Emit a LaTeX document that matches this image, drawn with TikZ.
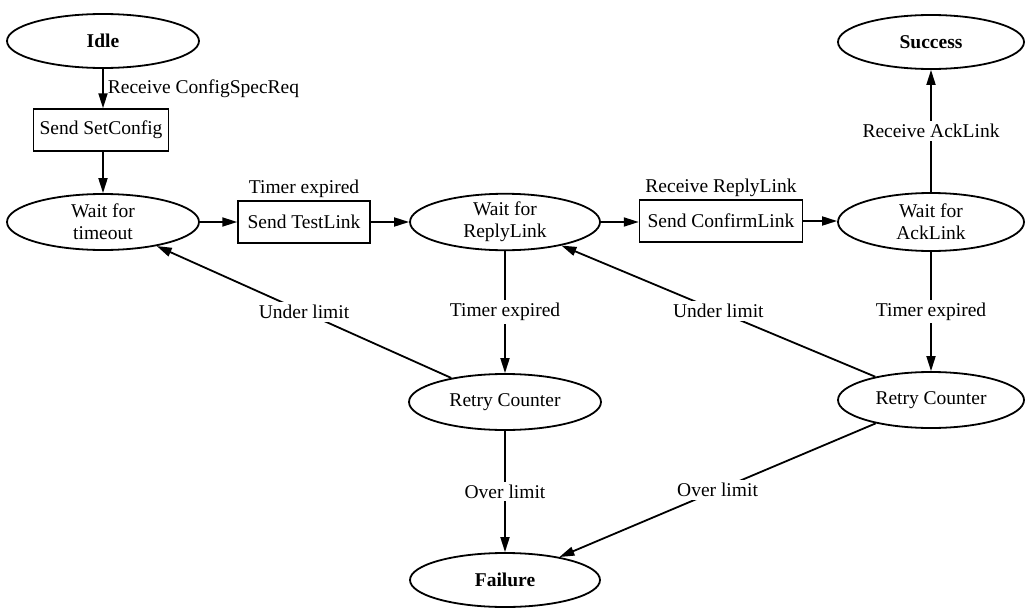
\documentclass[tikz,border=0pt]{standalone}
\usepackage{fontspec}
\setmainfont{Liberation Serif}
\usetikzlibrary{shapes.geometric,arrows.meta}
\begin{document}
\begin{tikzpicture}[x=1pt,y=-1pt,
  every node/.style={font=\fontsize{19.5}{22}\selectfont},
  state/.style={draw, ellipse, line width=1.8pt, inner sep=0pt,
    minimum width=192pt, minimum height=56pt, align=center},
  action/.style={draw, rectangle, line width=1.5pt, inner sep=0pt,
    minimum height=42pt},
  lbl/.style={fill=white, inner sep=3pt},
  flow/.style={line width=1.8pt, -{Triangle[length=15pt,width=9pt]}}
]
\useasboundingbox (0,0) rectangle (1033,613);

% states
\node[state, minimum height=54pt] (idle)    at (103,41)  {\textbf{Idle}};
\node[state] (waitto)  at (103,222) {Wait for\\timeout};
\node[state, minimum width=190pt] (waitrl)  at (505,222) {Wait for\\ReplyLink};
\node[state, minimum width=186pt, minimum height=58pt] (waitack) at (931,222) {Wait for\\AckLink};
\node[state, minimum width=186pt, minimum height=54pt] (success) at (931,42)  {\textbf{Success}};
\node[state] (retry1)  at (505,402) {Retry Counter};
\node[state, minimum width=186pt] (retry2)  at (931,400) {Retry Counter};
\node[state, minimum width=190pt, minimum height=54pt] (failure) at (505,580) {\textbf{Failure}};

% actions
\node[action, minimum width=135pt] (setcfg)  at (101,130) {Send SetConfig};
\node[action, minimum width=132pt] (testlnk) at (304,222) {Send TestLink};
\node[action, minimum width=163pt] (confirm) at (721,221) {Send ConfirmLink};

% labels above the action boxes
\node[anchor=south, inner sep=2pt] (lbltimer) at (testlnk.north) {Timer expired};
\node[anchor=south, inner sep=2pt] (lblreply) at (confirm.north) {Receive ReplyLink};

% transitions
\draw[flow] (idle.south) -- node[right, inner sep=4pt] {Receive ConfigSpecReq} (idle.south |- setcfg.north);
\draw[flow] (idle.south |- setcfg.south) -- (waitto.north);
\draw[flow] (waitto.east) -- (waitto.east -| testlnk.west);
\draw[flow] (testlnk.east) -- (testlnk.east -| waitrl.west);
\draw[flow] (waitrl.east) -- (waitrl.east -| confirm.west);
\draw[flow] (confirm.east) -- (confirm.east -| waitack.west);
\draw[flow] (waitack.north) -- node[lbl] {Receive AckLink} (success.south);
\draw[flow] (waitrl.south) -- node[lbl] {Timer expired} (retry1.north);
\draw[flow] (waitack.south) -- node[lbl] {Timer expired} (retry2.north);
\draw[flow] (retry1.south) -- node[lbl] {Over limit} (failure.north);
\draw[flow] (retry1) -- node[lbl] {Under limit} (waitto);
\draw[flow] (retry2) -- node[lbl] {Under limit} (waitrl);
\draw[flow] (retry2) -- node[lbl] {Over limit} (failure);
\end{tikzpicture}
\end{document}
